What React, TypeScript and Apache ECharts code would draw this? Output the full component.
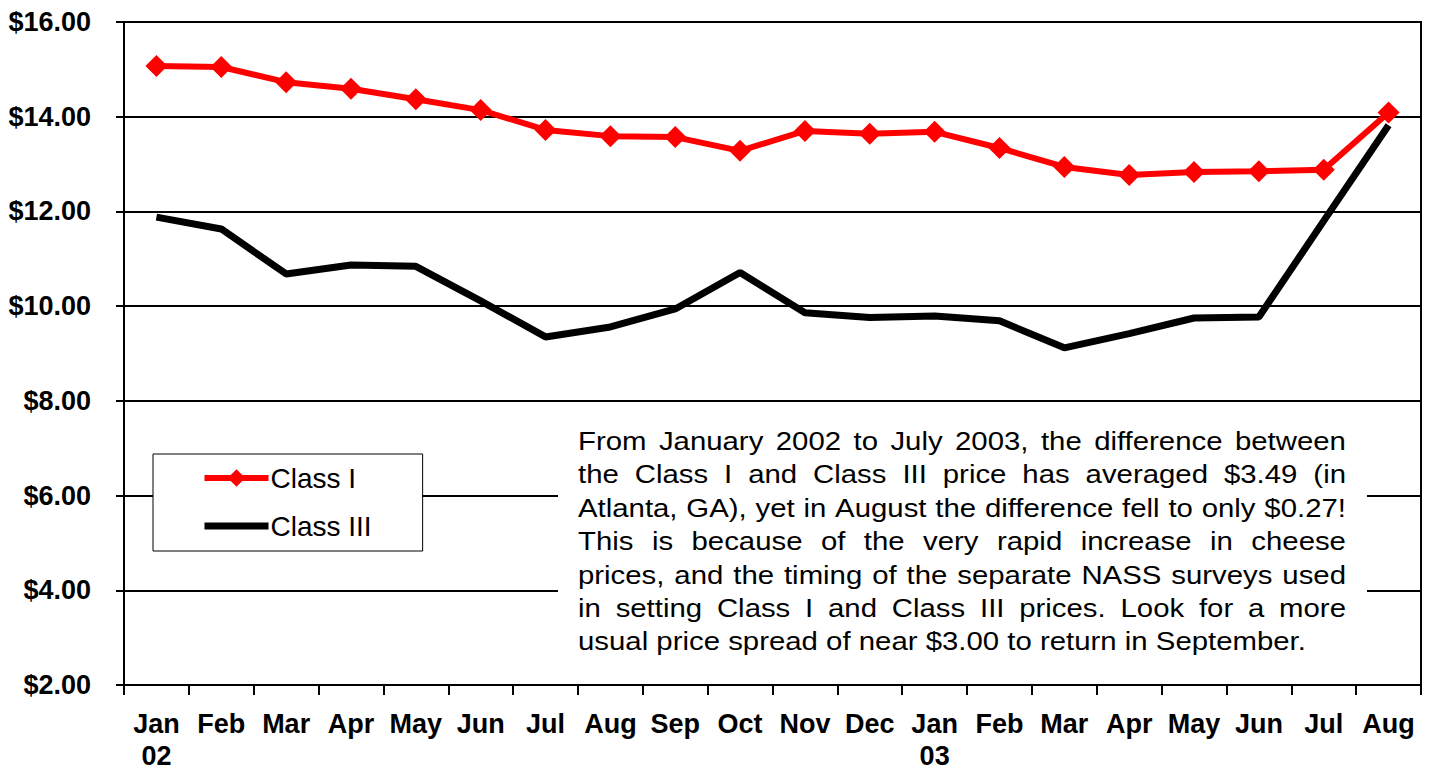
import React, { useEffect, useRef } from "react";
import * as echarts from "echarts";

const CATEGORIES = ["Jan\n02", "Feb", "Mar", "Apr", "May", "Jun", "Jul", "Aug", "Sep", "Oct", "Nov", "Dec", "Jan\n03", "Feb", "Mar", "Apr", "May", "Jun", "Jul", "Aug"];
const CLASS_I = [15.07, 15.05, 14.73, 14.59, 14.37, 14.14, 13.72, 13.59, 13.57, 13.28, 13.70, 13.64, 13.68, 13.34, 12.94, 12.77, 12.83, 12.85, 12.88, 14.09];
const CLASS_III = [11.88, 11.63, 10.68, 10.87, 10.84, 10.11, 9.35, 9.56, 9.94, 10.71, 9.86, 9.76, 9.79, 9.69, 9.12, 9.42, 9.75, 9.77, 11.80, 13.82];
const Y_TICKS = { min: 2, max: 16, interval: 2 };
const NOTE_LINES = [
  "From January 2002 to July 2003, the difference between",
  "the Class I and Class III price has averaged $3.49 (in",
  "Atlanta, GA), yet in August the difference fell to only $0.27!",
  "This is because of the very rapid increase in cheese",
  "prices, and the timing of the separate NASS surveys used",
  "in setting Class I and Class III prices.  Look for a more",
  "usual price spread of near $3.00 to return in September.",
];

const FONT = '"Liberation Sans", Arial, Helvetica, sans-serif';

function buildNote(): any[] {
  const fontSize = 26;
  const ctx = document.createElement("canvas").getContext("2d")!;
  ctx.font = `${fontSize}px ${FONT}`;
  const left = 578;
  const right = 1346;
  const firstY = 441;
  const lh = 33.4;
  const els: any[] = [];
  els.push({
    type: "rect",
    shape: { x: 558, y: 402, width: 809, height: 281 },
    style: { fill: "#fff" },
    z: 100,
  });
  const last = NOTE_LINES[NOTE_LINES.length - 1];
  const sx = Math.min(1.15, 728 / ctx.measureText(last).width);
  NOTE_LINES.forEach((line, i) => {
    const y = firstY + i * lh;
    const words = line.split(/\s+/);
    const isLast = i === NOTE_LINES.length - 1;
    const widths = words.map((w) => ctx.measureText(w).width * sx);
    const total = widths.reduce((a, b) => a + b, 0);
    const gap = isLast ? ctx.measureText(" ").width * sx : (right - left - total) / (words.length - 1);
    let x = left;
    words.forEach((w, j) => {
      els.push({
        type: "text",
        x,
        y,
        scaleX: sx,
        z: 101,
        style: { text: w, font: `${fontSize}px ${FONT}`, fill: "#000", verticalAlign: "middle", align: "left" },
      });
      x += widths[j] + gap;
    });
  });
  return els;
}

export default function App() {
  const ref = useRef<HTMLDivElement>(null);
  useEffect(() => {
    const chart = echarts.init(ref.current!, null, { renderer: "svg" });
    chart.setOption({
      animation: false,
      backgroundColor: "#fff",
      grid: {
        left: 124,
        right: 12,
        top: 22,
        bottom: 88,
        show: true,
        borderColor: "#000",
        borderWidth: 2,
        outerBoundsMode: "none",
        containLabel: false,
      },
      legend: {
        left: 153,
        top: 454,
        orient: "vertical",
        backgroundColor: "#fff",
        borderColor: "#000",
        borderWidth: 1,
        borderRadius: 0,
        padding: [10, 51, 11, 48],
        itemWidth: 64,
        itemHeight: 22,
        itemGap: 20,
        textStyle: { fontFamily: FONT, fontSize: 28, color: "#000", padding: [0, 0, 0, -3] },
        z: 50,
        data: [
          { name: "Class I", lineStyle: { width: 6 } },
          { name: "Class III", itemStyle: { opacity: 0 }, lineStyle: { width: 7, opacity: 1 } },
        ],
      },
      xAxis: {
        type: "category",
        data: CATEGORIES,
        boundaryGap: true,
        axisLine: { lineStyle: { color: "#000", width: 2 } },
        axisTick: { show: true, interval: 0, length: 10, lineStyle: { color: "#000", width: 2 } },
        axisLabel: {
          interval: 0,
          margin: 23,
          fontFamily: FONT,
          fontWeight: "bold",
          fontSize: 27,
          lineHeight: 32,
          color: "#000",
        },
        splitLine: { show: false },
      },
      yAxis: {
        type: "value",
        min: Y_TICKS.min,
        max: Y_TICKS.max,
        interval: Y_TICKS.interval,
        axisLine: { show: true, lineStyle: { color: "#000", width: 2 } },
        axisTick: { show: true, length: 8, lineStyle: { color: "#000", width: 2 } },
        axisLabel: {
          margin: 33,
          fontFamily: FONT,
          fontWeight: "bold",
          fontSize: 27,
          color: "#000",
          formatter: (v: number) => `$${v.toFixed(2)}`,
        },
        splitLine: { show: true, lineStyle: { color: "#000", width: 2 } },
      },
      series: [
        {
          name: "Class I",
          type: "line",
          data: CLASS_I,
          color: "#ff0000",
          lineStyle: { color: "#ff0000", width: 6 },
          itemStyle: { color: "#ff0000" },
          symbol: "diamond",
          symbolSize: [22, 22],
          z: 3,
        },
        {
          name: "Class III",
          type: "line",
          data: CLASS_III,
          color: "#000",
          lineStyle: { color: "#000", width: 7 },
          itemStyle: { color: "#000" },
          symbol: "none",
          z: 2,
        },
      ],
      graphic: buildNote(),
    });
    return () => chart.dispose();
  }, []);
  return <div ref={ref} style={{ position: "fixed", left: 0, top: 0, width: 1433, height: 773 }} />;
}
